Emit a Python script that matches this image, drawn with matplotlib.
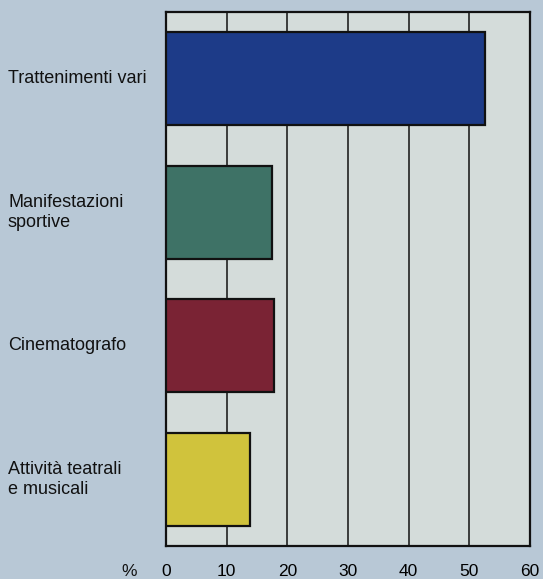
import matplotlib
matplotlib.use('Agg')
import matplotlib.pyplot as plt
from matplotlib.transforms import blended_transform_factory

# share of spending by type of show (%)
categories = ['Trattenimenti vari', 'Manifestazioni\nsportive', 'Cinematografo',
              'Attività teatrali\ne musicali']
values = [52.5, 17.5, 17.8, 13.8]
bar_colors = ['#1d3b88', '#3e7266', '#7a2334', '#d0c33c']
xticks = [0, 10, 20, 30, 40, 50, 60]

plt.rcParams['font.family'] = ['Liberation Sans', 'DejaVu Sans']

fig = plt.figure(figsize=(5.43, 5.79), dpi=100)
fig.patch.set_facecolor('#b8c8d6')
ax = fig.add_axes([166 / 543, 33 / 579, 364 / 543, 534 / 579])
ax.set_facecolor('#d4dcda')

ypos = list(range(len(categories)))
ax.barh(ypos, values, height=0.70, color=bar_colors, edgecolor='#111111',
        linewidth=1.6, zorder=3)

ax.set_xlim(0, 60)
ax.set_ylim(3.5, -0.5)
ax.set_xticks(xticks)
ax.set_xticklabels([str(t) for t in xticks], fontsize=12.5)
ax.set_yticks([])
ax.tick_params(axis='x', length=0, pad=13)
for x in xticks[1:-1]:
    ax.axvline(x, color='#111111', linewidth=1.1, zorder=1)
for s in ax.spines.values():
    s.set_linewidth(1.6)
    s.set_color('#111111')

trans = blended_transform_factory(fig.transFigure, ax.transData)
for i, lab in enumerate(categories):
    ax.text(8 / 543, i, lab, transform=trans, ha='left', va='center',
            fontsize=13, linespacing=1.2, color='#111111')

fig.text(129 / 543, 1 - 571 / 579, '%', ha='center', va='center', fontsize=12.5,
         color='#111111')

fig.savefig('out.png', dpi=100, facecolor=fig.get_facecolor())
